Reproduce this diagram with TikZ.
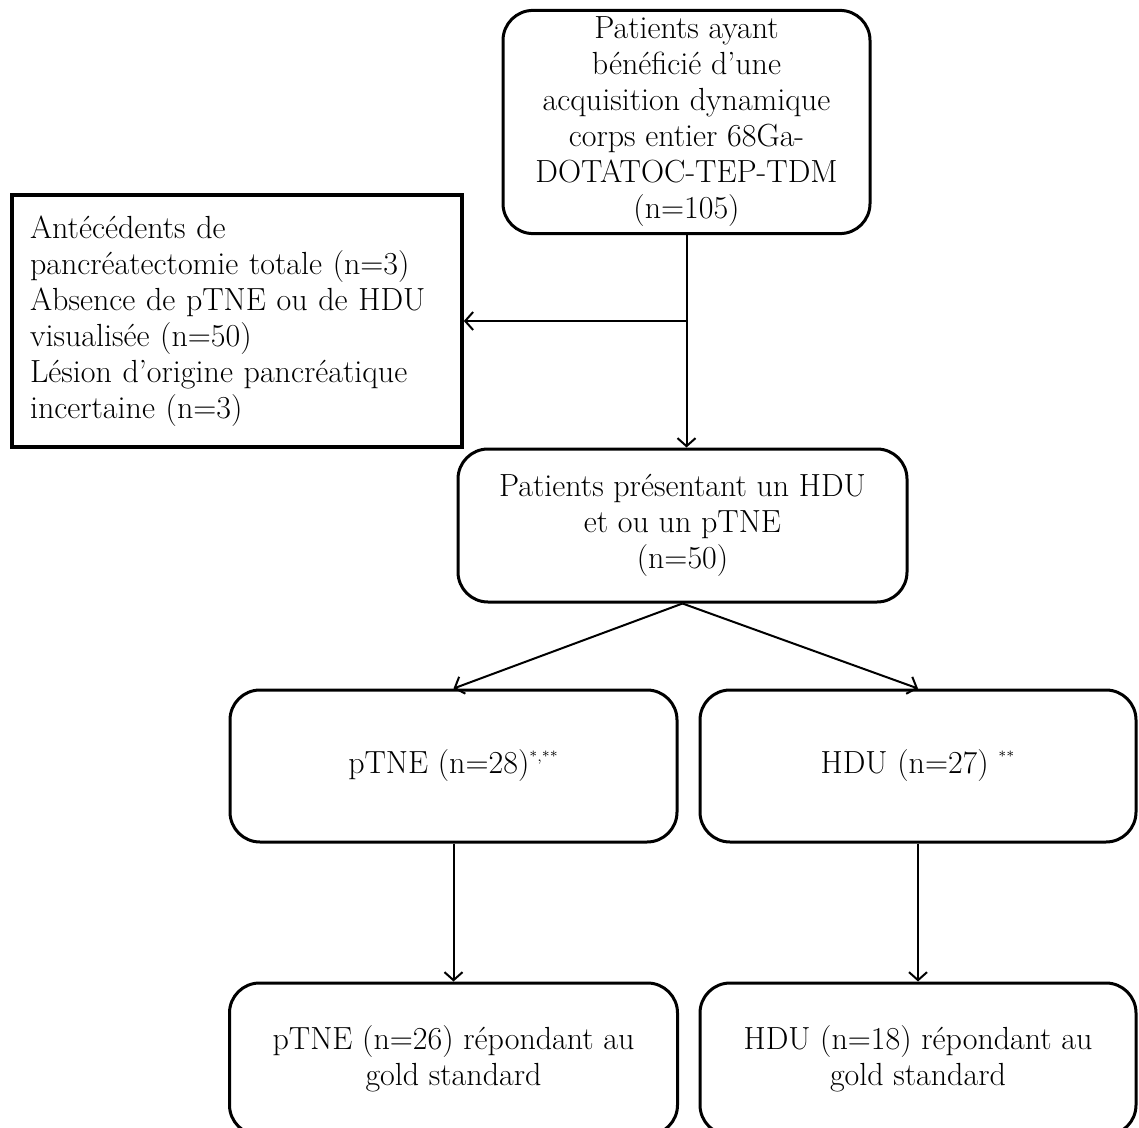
\documentclass[tikz,border=0pt]{standalone}
\usepackage{tikz}
\usetikzlibrary{arrows.meta, positioning}

\begin{document}
\begin{tikzpicture}[
    node distance=10pt,
    rbox/.style={rectangle, draw, rounded corners=15pt, line width=1.5pt,
                 align=center, font=\fontsize{16}{18}\selectfont},
    sbox/.style={rectangle, draw, line width=1.8pt, align=left,
                 inner sep=9pt, font=\fontsize{16}{18}\selectfont},
    arr/.style={-{Straight Barb[length=4pt,width=9pt]}, line width=1pt}
]
    \useasboundingbox (0,0) rectangle (569.5pt,-564pt);

    \node[rbox, minimum width=183.5pt, minimum height=110pt] (inclus) at (343.25pt,-61pt)
        {Patients ayant\\bénéficié d’une\\acquisition dynamique\\corps entier 68Ga-\\DOTATOC-TEP-TDM\\(n=105)};
    \node[sbox, minimum width=225pt, minimum height=126pt, text width=207pt] (exclus) at (118.5pt,-160.5pt)
        {Antécédents de\\pancréatectomie totale (n=3)\\Absence de pTNE ou de HDU\\visualisée (n=50)\\Lésion d’origine pancréatique\\incertaine (n=3)};
    \node[rbox, minimum width=224.5pt, minimum height=76.5pt] (lesions) at (341.25pt,-262.75pt)
        {Patients présentant un HDU\\et ou un pTNE\\(n=50)};
    \node[rbox, minimum width=223.5pt, minimum height=76pt] (ptne) at (226.75pt,-383pt)
        {pTNE (n=28)\textsuperscript{\scriptsize *,**}};
    \node[rbox, minimum width=218pt, minimum height=76pt, right=of ptne] (hdu)
        {HDU (n=27) \textsuperscript{\scriptsize **}};
    \node[rbox, minimum width=224pt, minimum height=76pt, below=69pt of ptne] (ptnegold)
        {pTNE (n=26) répondant au\\gold standard};
    \node[rbox, minimum width=218pt, minimum height=76pt, below=69pt of hdu] (hdugold)
        {HDU (n=18) répondant au\\gold standard};

    \draw[arr] (inclus.south) -- (inclus.south |- lesions.north);
    \draw[arr] (inclus.south |- exclus.east) -- (exclus.east);
    \draw[arr] (lesions.south) -- (ptne.north);
    \draw[arr] (lesions.south) -- (hdu.north);
    \draw[arr] (ptne) -- (ptnegold);
    \draw[arr] (hdu) -- (hdugold);
\end{tikzpicture}
\end{document}
